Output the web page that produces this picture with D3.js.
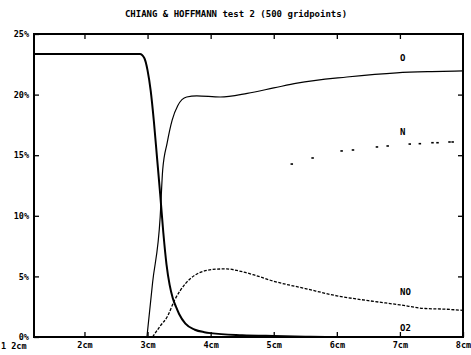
<!DOCTYPE html>
<html>
<head>
<meta charset="utf-8">
<script src="https://cdn.jsdelivr.net/npm/d3@7"></script>
<style>
  body { margin: 0; background: #fff; }
  svg text { font-family: "DejaVu Sans Mono", monospace; font-weight: bold; fill: #000; }
</style>
</head>
<body>
<svg id="chart" width="471" height="355"></svg>
<script>
// mass fractions (%) against distance (cm)
const o2Data = [[1.2,23.35],[2.88,23.35],[2.95,23.0],[3.0,22.0],[3.05,20.3],[3.1,17.8],[3.15,14.8],
    [3.2,11.8],[3.25,8.6],[3.3,6.0],[3.35,4.3],[3.4,3.2],[3.45,2.5],[3.5,1.9],[3.6,1.1],[3.75,0.6],
    [3.9,0.4],[4.0,0.32],[4.5,0.15],[5.0,0.08],[5.5,0.03],[6.0,0],[8.0,0]];
const oData = [[2.99,0],[3.08,4.5],[3.2,9.9],[3.24,13.8],[3.31,16.0],[3.39,17.9],[3.48,19.1],
    [3.62,19.8],[3.78,19.9],[4.15,19.8],[4.58,20.1],[5.0,20.55],[5.37,20.95],[6.16,21.45],
    [6.95,21.8],[7.5,21.9],[8.0,21.95]];
const noData = [[3.08,0],[3.2,0.9],[3.31,1.65],[3.43,3.05],[3.6,4.4],[3.75,5.1],[3.9,5.45],
    [4.1,5.6],[4.25,5.62],[4.45,5.45],[4.7,5.1],[5.0,4.6],[5.5,4.0],[6.0,3.4],[6.5,3.0],
    [7.0,2.65],[7.4,2.35],[7.7,2.3],[8.0,2.2]];
const nData = [[5.29,14.27],[5.62,14.77],[6.08,15.35],[6.26,15.43],[6.64,15.68],[6.81,15.76],
    [7.16,15.92],[7.32,15.95],[7.52,16.03],[7.60,16.03],[7.79,16.09],[7.84,16.09]];

const xTicks = [2, 3, 4, 5, 6, 7, 8];
const yTicks = [0, 5, 10, 15, 20, 25];
const seriesLabels = [["O", 23.0], ["N", 16.9], ["NO", 3.7], ["O2", 0.75]];

const svg = d3.select('#chart');
const x = d3.scaleLinear().domain([1.2, 8]).range([34, 463]);
const y = d3.scaleLinear().domain([0, 25]).range([337, 34]);

svg.append('text')
    .attr('x', 236).attr('y', 17)
    .attr('text-anchor', 'middle')
    .attr('font-size', 9)
    .text('CHIANG & HOFFMANN test 2 (500 gridpoints)');

// inward ticks on all four sides
const axLeft = svg.append('g').attr('transform', 'translate(34,0)')
    .call(d3.axisLeft(y).tickValues(yTicks).tickSizeInner(-5).tickSizeOuter(0)
        .tickPadding(5).tickFormat(d => d + '%'));
const axBottom = svg.append('g').attr('transform', 'translate(0,337)')
    .call(d3.axisBottom(x).tickValues(xTicks).tickSizeInner(-5).tickSizeOuter(0)
        .tickPadding(5).tickFormat(d => d + 'cm'));
const axTop = svg.append('g').attr('transform', 'translate(0,34)')
    .call(d3.axisTop(x).tickValues(xTicks.slice(0, -1)).tickSizeInner(-5).tickSizeOuter(0).tickFormat(''));
const axRight = svg.append('g').attr('transform', 'translate(463,0)')
    .call(d3.axisRight(y).tickValues(yTicks.slice(1, -1)).tickSizeInner(-5).tickSizeOuter(0).tickFormat(''));

[axLeft, axBottom, axTop, axRight].forEach(g => {
    g.select('.domain').remove();
    g.selectAll('line').attr('stroke', '#000').attr('stroke-width', 1.3);
    g.selectAll('text').attr('font-size', 8.5).attr('font-family', null);
});

svg.append('text')
    .attr('x', 1).attr('y', 349)
    .attr('font-size', 8.5)
    .text('1 2cm');

svg.append('rect')
    .attr('x', 34).attr('y', 34)
    .attr('width', 463 - 34).attr('height', 337 - 34)
    .attr('fill', 'none')
    .attr('stroke', '#000')
    .attr('stroke-width', 2);

const line = d3.line()
    .x(d => x(d[0]))
    .y(d => y(d[1]))
    .curve(d3.curveMonotoneX);

svg.append('path').datum(o2Data)
    .attr('d', line).attr('fill', 'none').attr('stroke', '#000').attr('stroke-width', 2);
svg.append('path').datum(oData)
    .attr('d', line).attr('fill', 'none').attr('stroke', '#000').attr('stroke-width', 1.2);
svg.append('path').datum(noData)
    .attr('d', line).attr('fill', 'none').attr('stroke', '#000').attr('stroke-width', 1.3)
    .attr('stroke-dasharray', '3,1.5');

svg.append('g').selectAll('rect')
    .data(nData)
    .enter()
    .append('rect')
    .attr('x', d => x(d[0]) - 1.5)
    .attr('y', d => y(d[1]) - 0.8)
    .attr('width', 2.5)
    .attr('height', 1.6)
    .attr('fill', '#000');

svg.append('g').selectAll('text')
    .data(seriesLabels)
    .enter()
    .append('text')
    .attr('x', 400)
    .attr('y', d => y(d[1]) + 3)
    .attr('font-size', 9)
    .text(d => d[0]);
</script>
</body>
</html>
